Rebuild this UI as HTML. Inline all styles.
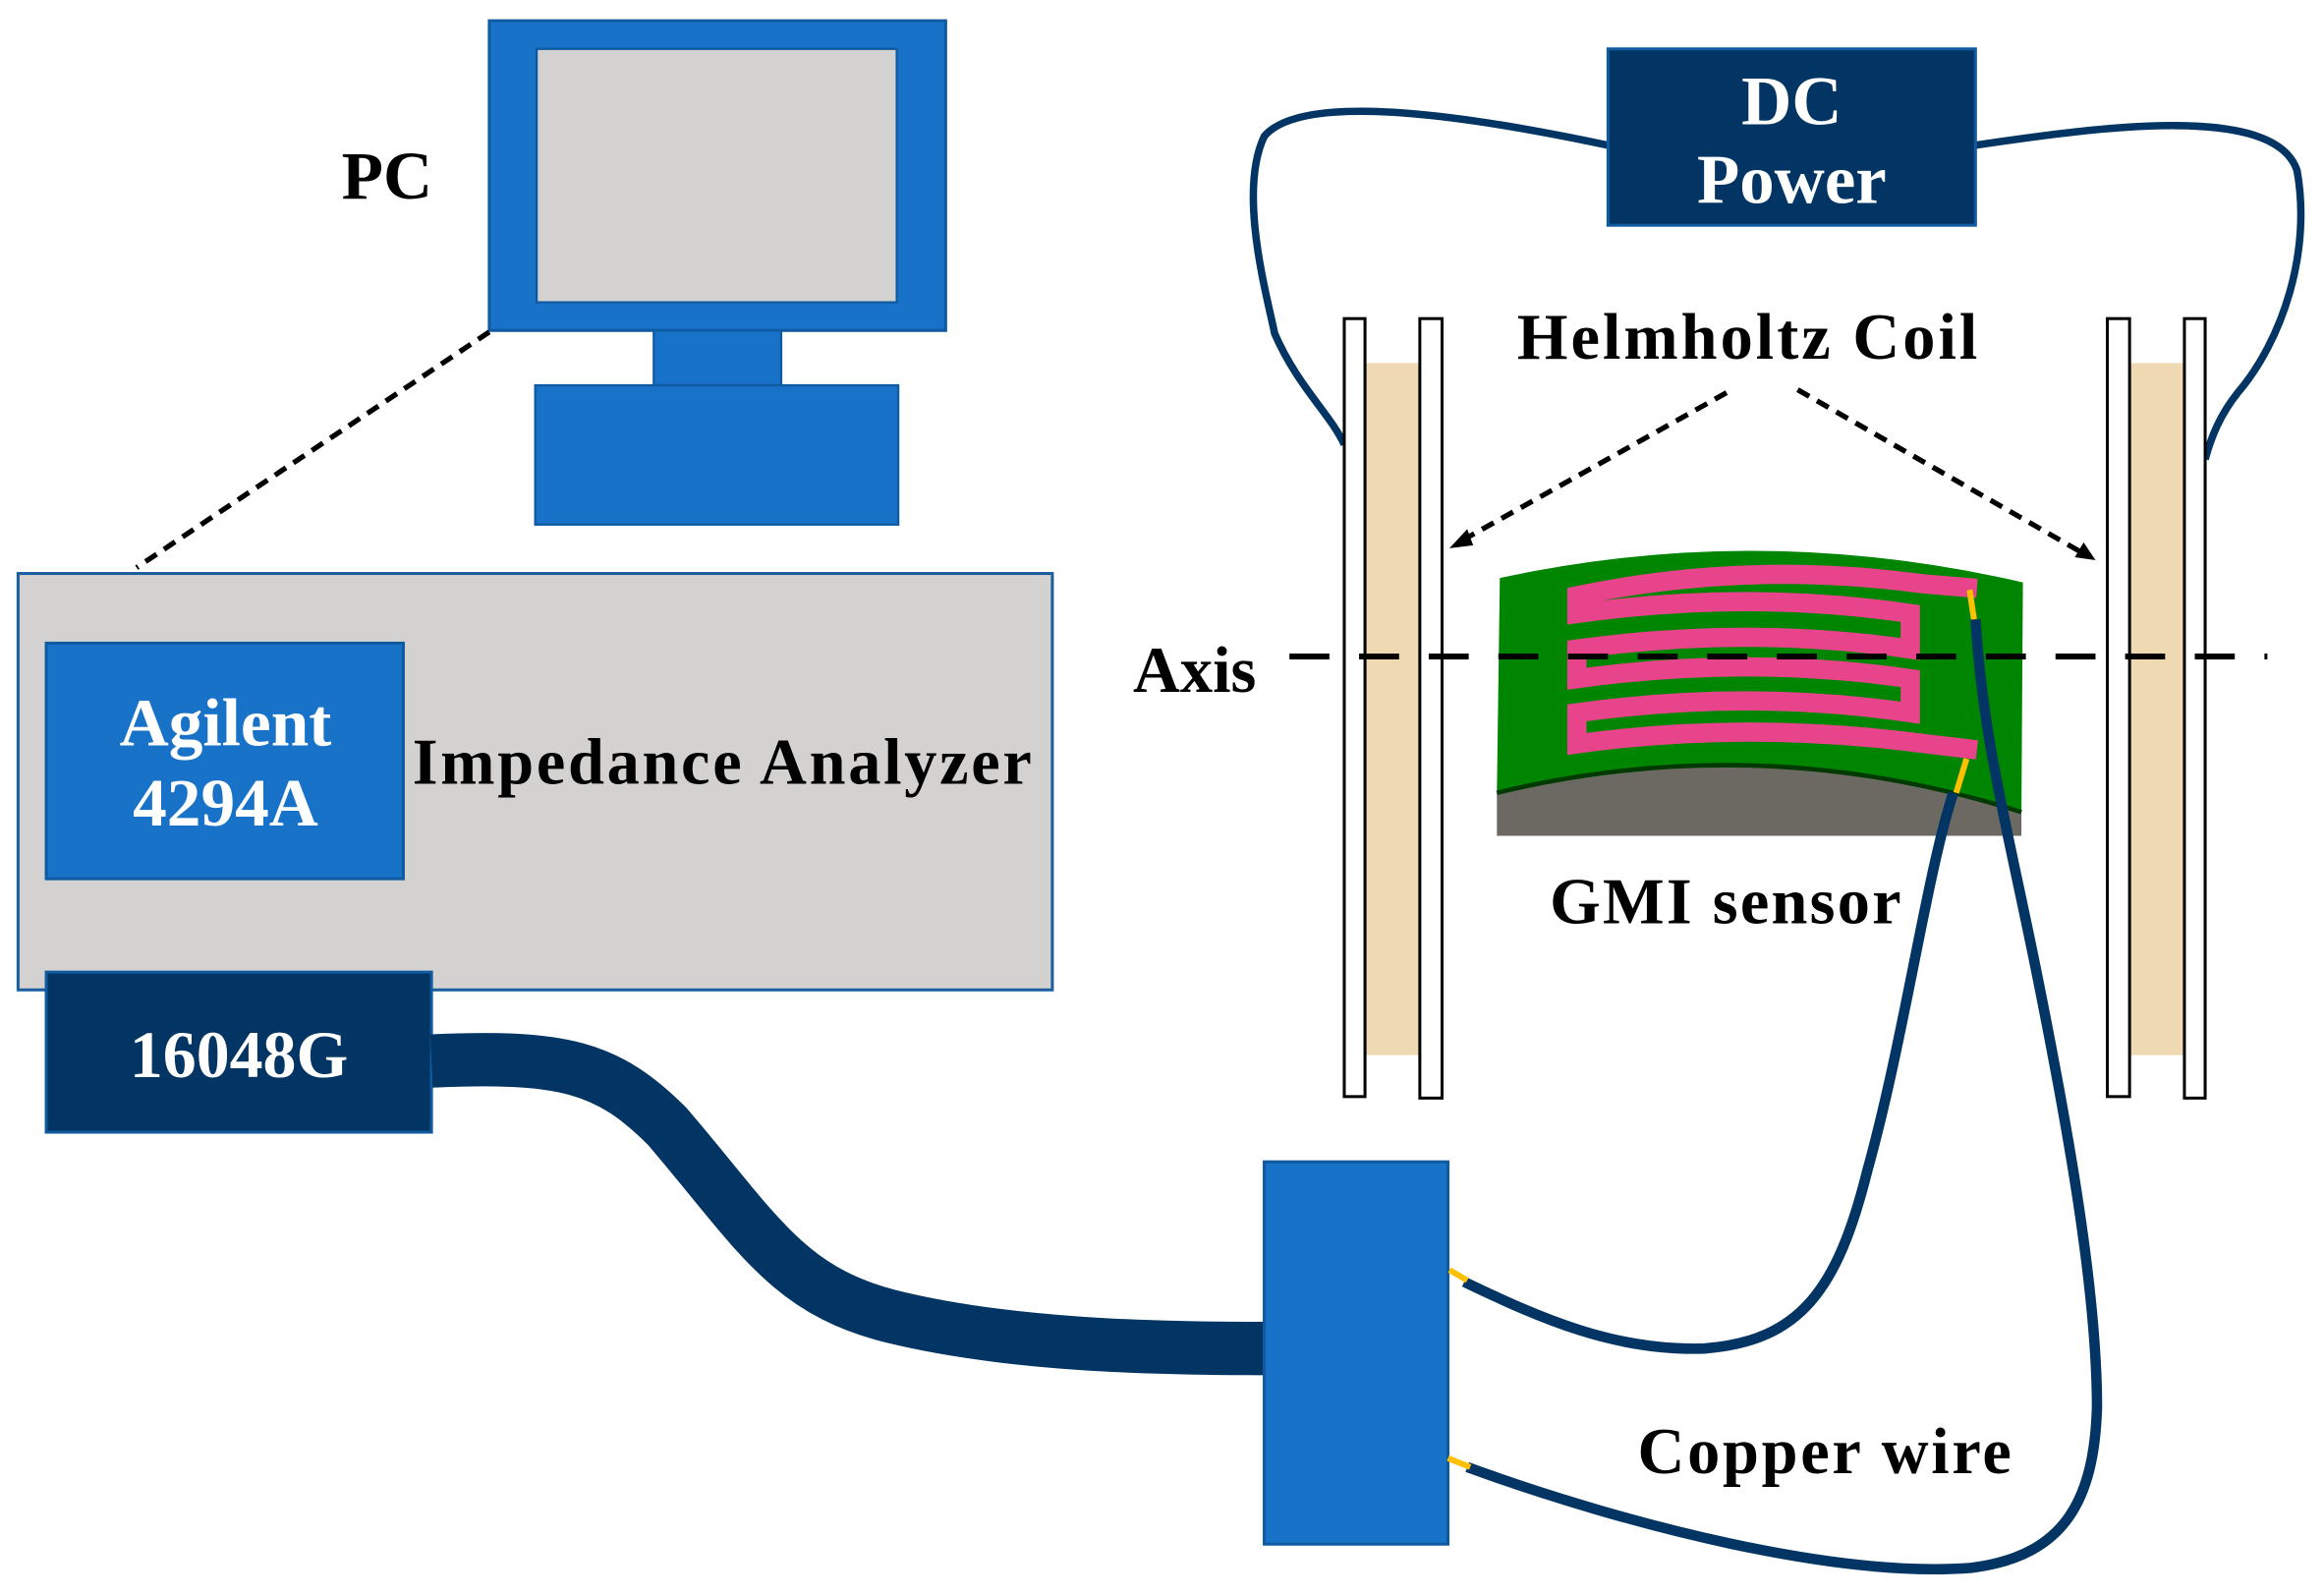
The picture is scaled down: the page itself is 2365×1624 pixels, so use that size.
<!DOCTYPE html>
<html><head><meta charset="utf-8"><style>
html,body{margin:0;padding:0;background:#fff;}
svg{display:block}
text{font-family:"Liberation Serif",serif;font-weight:bold;}
</style></head><body>
<svg width="2365" height="1624" viewBox="0 0 1568 1077" xmlns="http://www.w3.org/2000/svg">
<rect width="1568" height="1077" fill="#fff"/>
<!-- PC -->
<rect x="330" y="14" width="308" height="209" fill="#1872c8" stroke="#0f5aa0" stroke-width="2"/>
<rect x="362" y="33" width="243" height="171" fill="#d3d2d0" stroke="#0f5aa0" stroke-width="1.5"/>
<rect x="441" y="223" width="86" height="37" fill="#1872c8" stroke="#0f5aa0" stroke-width="1.5"/>
<rect x="361" y="260" width="245" height="94" fill="#1872c8" stroke="#0f5aa0" stroke-width="1.5"/>
<text x="261" y="134" font-size="46" text-anchor="middle">PC</text>
<line x1="330" y1="224" x2="92" y2="383" stroke="#000" stroke-width="3.5" stroke-dasharray="9 6"/>
<!-- Analyzer -->
<rect x="12" y="387" width="698" height="281" fill="#d3d2d0" stroke="#1a5ea0" stroke-width="2"/>
<rect x="31" y="434" width="241" height="159" fill="#1872c8" stroke="#0f5aa0" stroke-width="2"/>
<text x="152" y="503" font-size="46" fill="#fff" text-anchor="middle">Agilent</text>
<text x="152" y="557" font-size="46" fill="#fff" text-anchor="middle">4294A</text>
<text x="488" y="529" font-size="44" text-anchor="middle" letter-spacing="1.8">Impedance Analyzer</text>
<rect x="31" y="656" width="260" height="108" fill="#023563" stroke="#0f5aa0" stroke-width="2"/>
<text x="161" y="727" font-size="45" fill="#fff" text-anchor="middle">16048G</text>
<!-- thick cable -->
<path d="M291,716 C380,712 410,720 450,760 C510,830 530,870 600,888 C680,908 780,910 853,910" fill="none" stroke="#023563" stroke-width="36"/>
<rect x="853" y="784" width="124" height="258" fill="#1872c8" stroke="#0f5aa0" stroke-width="2"/>
<!-- DC Power -->
<path d="M1085,98 C1000,80 880,60 853,92 C835,130 855,200 860,225 C875,260 898,280 907,300" fill="none" stroke="#023563" stroke-width="5"/>
<path d="M1333,98 C1420,85 1535,70 1550,115 C1560,170 1540,230 1510,265 C1498,280 1492,295 1488,310" fill="none" stroke="#023563" stroke-width="5"/>
<rect x="1085" y="33" width="248" height="119" fill="#023563" stroke="#0f5aa0" stroke-width="2"/>
<text x="1209" y="84" font-size="47" fill="#fff" text-anchor="middle">DC</text>
<text x="1209" y="137" font-size="47" fill="#fff" text-anchor="middle">Power</text>
<!-- coils -->
<rect x="921" y="245" width="37" height="467" fill="#efd9b3"/>
<rect x="907" y="215" width="14" height="525" fill="#fff" stroke="#000" stroke-width="2"/>
<rect x="958" y="215" width="15" height="526" fill="#fff" stroke="#000" stroke-width="2"/>
<rect x="1437" y="245" width="37" height="467" fill="#efd9b3"/>
<rect x="1422" y="215" width="15" height="525" fill="#fff" stroke="#000" stroke-width="2"/>
<rect x="1474" y="215" width="14" height="526" fill="#fff" stroke="#000" stroke-width="2"/>
<text x="1180" y="242" font-size="44" text-anchor="middle" letter-spacing="2">Helmholtz Coil</text>
<line x1="1165" y1="265" x2="986" y2="365" stroke="#000" stroke-width="3.5" stroke-dasharray="9 6"/>
<polygon points="978,370 990,357 994,368" fill="#000"/>
<line x1="1213" y1="263" x2="1405" y2="373" stroke="#000" stroke-width="3.5" stroke-dasharray="9 6"/>
<polygon points="1414,378 1400,376 1406,366" fill="#000"/>
<!-- sensor -->
<path d="M1010,535 Q1188,490 1364,548 L1364,564 L1010,564 Z" fill="#6b6962"/>
<path d="M1012,390 Q1188,352 1365,393 L1364,548 Q1188,492 1010,535 Z" fill="#008500"/>
<path d="M1010,535 Q1188,492 1364,548" fill="none" stroke="#003a00" stroke-width="3"/>
<path d="M1334,397 L1298,394 Q1180,378 1064,402 L1064,414 Q1180,398 1289,414 L1289,438 Q1180,422 1064,438 L1064,458 Q1180,442 1289,458 L1289,481 Q1180,465 1064,481 L1064,502 Q1180,486 1300,502 L1334,506" fill="none" stroke="#e8448c" stroke-width="13" stroke-linejoin="miter"/>
<!-- axis -->
<text x="806" y="467" font-size="44" text-anchor="middle">Axis</text>
<line x1="870" y1="443" x2="1530" y2="443" stroke="#000" stroke-width="4" stroke-dasharray="27 20"/>
<text x="1165" y="623" font-size="44" text-anchor="middle" letter-spacing="1.5">GMI sensor</text>
<!-- fine wires -->
<line x1="1329" y1="398" x2="1332" y2="418" stroke="#ffc000" stroke-width="4"/>
<path d="M1333,418 C1338,500 1355,560 1375,660 C1395,760 1415,870 1415,950 C1413,1010 1395,1050 1330,1058 C1240,1065 1100,1030 990,990" fill="none" stroke="#023563" stroke-width="7"/>
<line x1="977" y1="984" x2="992" y2="990" stroke="#ffc000" stroke-width="4"/>
<line x1="1327" y1="512" x2="1320" y2="535" stroke="#ffc000" stroke-width="4"/>
<path d="M1318,535 C1300,590 1285,700 1260,790 C1240,870 1215,905 1150,910 C1090,912 1040,890 988,865" fill="none" stroke="#023563" stroke-width="7"/>
<line x1="978" y1="857" x2="990" y2="864" stroke="#ffc000" stroke-width="4"/>
<text x="1232" y="994" font-size="44" text-anchor="middle" letter-spacing="1.8">Copper wire</text>
</svg>
</body></html>
